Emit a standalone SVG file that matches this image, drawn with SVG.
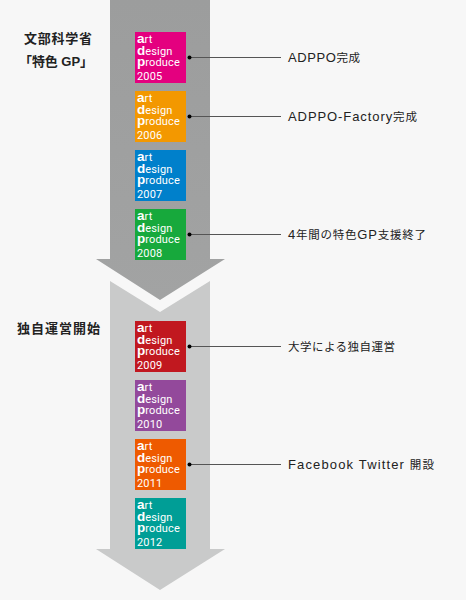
<svg xmlns="http://www.w3.org/2000/svg" width="466" height="600" viewBox="0 0 466 600">
<style>
.lg{font-family:"Roboto","Liberation Sans",sans-serif;font-size:11px;fill:#fff;letter-spacing:.15px}
.lg .b{font-family:"Liberation Sans",sans-serif;font-weight:700;font-size:13.500px;letter-spacing:0}
.lb{font-family:"Liberation Sans","Noto Sans CJK JP",sans-serif;font-size:13px;fill:#222}
.lb .j{font-size:11.500px}
.h{font-family:"Liberation Sans","Noto Sans CJK JP",sans-serif;font-size:13px;font-weight:700;fill:#222}
.c{stroke:#555;stroke-width:1;fill:none}
.d{fill:#000}
</style>
<defs>
<linearGradient id="g1" x1="0" y1="0" x2="0" y2="1"><stop offset="0" stop-color="#9c9d9d"/><stop offset="1" stop-color="#a2a3a3"/></linearGradient>
</defs>
<rect width="466" height="600" fill="#f7f7f7"/>
<g id="arrow-1"><polygon points="110,0 210,0 210,259 225,259 160,300 96,259 110,259" fill="url(#g1)"/></g>
<g id="arrow-2"><polygon points="110,281 160,312 210,281 210,549 225,549 160,590 96,549 110,549" fill="#c9caca"/></g>
<g id="y2005"><rect x="135" y="32" width="51" height="51" fill="#e4007f"/><text class="lg"><tspan x="137" y="43"><tspan class="b">a</tspan>rt</tspan><tspan x="137" y="54.500"><tspan class="b">d</tspan>esign</tspan><tspan x="137" y="66"><tspan class="b">p</tspan>roduce</tspan><tspan x="137" y="80">2005</tspan></text></g>
<g id="y2006"><rect x="135" y="91" width="51" height="51" fill="#f39800"/><text class="lg"><tspan x="137" y="102"><tspan class="b">a</tspan>rt</tspan><tspan x="137" y="113.500"><tspan class="b">d</tspan>esign</tspan><tspan x="137" y="125"><tspan class="b">p</tspan>roduce</tspan><tspan x="137" y="139">2006</tspan></text></g>
<g id="y2007"><rect x="135" y="150" width="51" height="51" fill="#0080cb"/><text class="lg"><tspan x="137" y="161"><tspan class="b">a</tspan>rt</tspan><tspan x="137" y="172.500"><tspan class="b">d</tspan>esign</tspan><tspan x="137" y="184"><tspan class="b">p</tspan>roduce</tspan><tspan x="137" y="198">2007</tspan></text></g>
<g id="y2008"><rect x="135" y="209" width="51" height="51" fill="#17a93c"/><text class="lg"><tspan x="137" y="220"><tspan class="b">a</tspan>rt</tspan><tspan x="137" y="231.500"><tspan class="b">d</tspan>esign</tspan><tspan x="137" y="243"><tspan class="b">p</tspan>roduce</tspan><tspan x="137" y="257">2008</tspan></text></g>
<g id="y2009"><rect x="135" y="321" width="51" height="51" fill="#c1181f"/><text class="lg"><tspan x="137" y="332"><tspan class="b">a</tspan>rt</tspan><tspan x="137" y="343.500"><tspan class="b">d</tspan>esign</tspan><tspan x="137" y="355"><tspan class="b">p</tspan>roduce</tspan><tspan x="137" y="369">2009</tspan></text></g>
<g id="y2010"><rect x="135" y="380" width="51" height="51" fill="#93499b"/><text class="lg"><tspan x="137" y="391"><tspan class="b">a</tspan>rt</tspan><tspan x="137" y="402.500"><tspan class="b">d</tspan>esign</tspan><tspan x="137" y="414"><tspan class="b">p</tspan>roduce</tspan><tspan x="137" y="428">2010</tspan></text></g>
<g id="y2011"><rect x="135" y="439" width="51" height="51" fill="#ee5a00"/><text class="lg"><tspan x="137" y="450"><tspan class="b">a</tspan>rt</tspan><tspan x="137" y="461.500"><tspan class="b">d</tspan>esign</tspan><tspan x="137" y="473"><tspan class="b">p</tspan>roduce</tspan><tspan x="137" y="487">2011</tspan></text></g>
<g id="y2012"><rect x="135" y="498" width="51" height="51" fill="#009e96"/><text class="lg"><tspan x="137" y="509"><tspan class="b">a</tspan>rt</tspan><tspan x="137" y="520.500"><tspan class="b">d</tspan>esign</tspan><tspan x="137" y="532"><tspan class="b">p</tspan>roduce</tspan><tspan x="137" y="546">2012</tspan></text></g>
<g id="connectors">
<path class="c" d="M189.500 57.500H281M189.500 116.500H281M189.500 234.500H281M189.500 346.500H281M189.500 464.500H281"/>
<circle class="d" cx="189.500" cy="57.500" r="2"/><circle class="d" cx="189.500" cy="116.500" r="2"/><circle class="d" cx="189.500" cy="234.500" r="2"/><circle class="d" cx="189.500" cy="346.500" r="2"/><circle class="d" cx="189.500" cy="464.500" r="2"/>
</g>
<g id="labels">
<text class="lb" x="288" y="61.500" textLength="72">ADPPO<tspan class="j">完成</tspan></text>
<text class="lb" x="288" y="120.500" textLength="129">ADPPO-Factory<tspan class="j">完成</tspan></text>
<text class="lb" x="288" y="238.500" textLength="138">4<tspan class="j">年間の特色</tspan>GP<tspan class="j">支援終了</tspan></text>
<text class="lb" x="288" y="350.500" textLength="107"><tspan class="j">大学による独自運営</tspan></text>
<text class="lb" x="288" y="468.500" textLength="146">Facebook Twitter <tspan class="j">開設</tspan></text>
</g>
<g id="headings">
<text class="h" x="24" y="43" textLength="68">文部科学省</text>
<text class="h" x="19" y="66" textLength="74">「特色 GP」</text>
<text class="h" x="17" y="333" textLength="83">独自運営開始</text>
</g>
</svg>
